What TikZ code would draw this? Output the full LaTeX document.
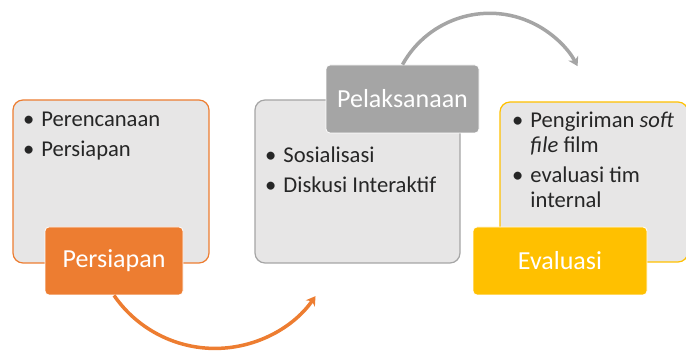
\documentclass[tikz,border=0pt]{standalone}
\usepackage{fontspec}
\setmainfont{Carlito}
\usetikzlibrary{arrows.meta,positioning}

\definecolor{orangeP}{HTML}{ED7D31}
\definecolor{grayP}{HTML}{A5A5A5}
\definecolor{yellowP}{HTML}{FFC000}
\definecolor{panelP}{HTML}{E7E6E6}

\begin{document}
\begin{tikzpicture}[x=1pt, y=1pt,
    panel/.style={draw=#1, line width=1.2pt, fill=panelP, rounded corners=10pt, inner sep=0pt},
    tag/.style={fill=#1, draw=white, line width=0.8pt, rounded corners=4pt, text=white,
                font=\fontsize{26}{30}\selectfont, inner sep=0pt, minimum height=68pt},
    items/.style={font=\fontsize{22.6}{25}\selectfont, text=black!85, anchor=base west, inner sep=0pt},
    cycle/.style={line width=3.5pt, -{Stealth[length=9pt,width=11pt]}}]
    \useasboundingbox (0,0) rectangle (686,351);

    % Persiapan
    \node[panel=orangeP, minimum width=196pt, minimum height=163pt] (boxP) at (111,169.5) {};
    \node[items] (itemsP) at (23,224) {\begin{tabular}[t]{@{}l@{\hspace{7pt}}l@{}}
        \textbullet & Perencanaan\\[5pt]
        \textbullet & Persiapan
      \end{tabular}};
    \node[tag=orangeP, minimum width=138pt] (tagP) at (114,90) {Persiapan};

    % Pelaksanaan
    \node[panel=grayP, minimum width=205pt, minimum height=163pt] (boxK) at (357.5,169.5) {};
    \node[items] (itemsK) at (265,188) {\begin{tabular}[t]{@{}l@{\hspace{7pt}}l@{}}
        \textbullet & Sosialisasi\\[5pt]
        \textbullet & Diskusi Interaktif
      \end{tabular}};
    \node[tag=grayP, minimum width=153pt] (tagK) at (402.5,252) {Pelaksanaan};

    % Evaluasi
    \node[panel=yellowP, minimum width=188pt, minimum height=160pt] (boxE) at (594,169) {};
    \node[items] (itemsE) at (512,223) {\begin{tabular}[t]{@{}l@{\hspace{7pt}}l@{}}
        \textbullet & Pengiriman \textit{soft}\\
                    & \textit{file} film\\[5pt]
        \textbullet & evaluasi tim\\
                    & internal
      \end{tabular}};
    \node[tag=yellowP, minimum width=174pt] (tagE) at (560,90) {Evaluasi};

    % arrows between the stages
    \draw[cycle, draw=orangeP] (tagP.south) arc[start angle=214.6, end angle=325, radius=122.7];
    \draw[cycle, draw=grayP] (tagK.north) arc[start angle=151, end angle=28, radius=99.6];
\end{tikzpicture}
\end{document}
